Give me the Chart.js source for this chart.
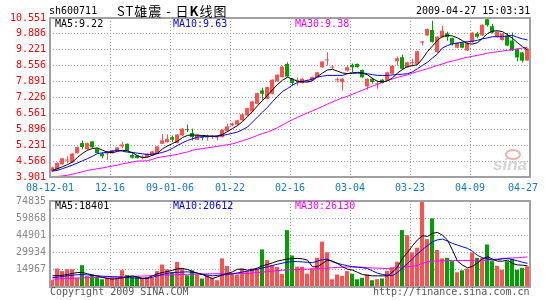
<!DOCTYPE html>
<html><head><meta charset="utf-8">
<script src="https://cdn.jsdelivr.net/npm/chart.js@4.4.0/dist/chart.umd.min.js"></script>
<style>
html,body{margin:0;padding:0;background:#fff;}
#wrap{position:relative;width:545px;height:300px;overflow:hidden;background:#fff;}
canvas{position:absolute;left:0;top:0;}
.t{position:absolute;font-family:"DejaVu Sans Mono",monospace;font-size:10px;line-height:12px;white-space:nowrap;}
</style></head><body>
<div id="wrap">
<canvas id="pc" width="545" height="300"></canvas>
<canvas id="vc" width="545" height="300"></canvas>
<div class="t" style="left:49px;top:5px;color:#000">sh600711</div>
<div class="t" style="left:117px;top:3px;color:#000;font-family:'Noto Sans CJK SC',sans-serif;font-size:13px;line-height:15px;letter-spacing:1px;">ST雄震 - 日<b>K</b>线图</div>
<div class="t" style="left:416px;top:5px;color:#000">2009-04-27 15:03:31</div>
<div class="t" id="pm5" style="left:55px;top:18px;color:#000"></div>
<div class="t" id="pm10" style="left:173px;top:18px;color:#0000ff"></div>
<div class="t" id="pm30" style="left:295px;top:18px;color:#ff00ff"></div>
<div class="t" id="vm5" style="left:55px;top:200px;color:#000"></div>
<div class="t" id="vm10" style="left:173px;top:200px;color:#0000ff"></div>
<div class="t" id="vm30" style="left:295px;top:200px;color:#ff00ff"></div>
<div class="t" style="left:50px;top:286px;color:#555">Copyright 2009 SINA.COM</div>
<div class="t" style="left:373px;top:286px;color:#555">http://finance.sina.com.cn</div>
<div style="position:absolute;left:505px;top:149px;width:12px;height:7px;border:2px solid #f5b0b0;border-radius:50%;"></div>
<div style="position:absolute;left:493px;top:155px;font-family:'Liberation Sans',sans-serif;font-weight:bold;font-style:italic;font-size:17px;color:#d4d4d4;">sina</div>
</div>
<script>
// ---------- data ----------
const dateLabels = ['08-12-01','12-16','09-01-06','01-22','02-16','03-04','03-23','04-09','04-27'];
const priceTicks = [3.901,4.566,5.231,5.896,6.561,7.226,7.891,8.556,9.221,9.886,10.551];
const volumeTicks = [0,14967,29934,44901,59868,74835];
const priceMaLabels = ['MA5:9.22','MA10:9.63','MA30:9.38'];
const volumeMaLabels = ['MA5:18401','MA10:20612','MA30:26130'];

const opens  = [4.14,4.22,4.43,4.59,4.51,4.90,5.32,5.06,5.39,5.09, 4.88,4.88,4.90,4.99,5.18,5.29,4.82,4.81,4.72,4.74,
                4.81,4.88,5.29,5.36,5.57,5.32,5.64,5.90,5.74,5.46, 5.58,5.55,5.57,5.55,5.57,5.82,6.06,6.09,6.27,6.48,
                6.64,6.96,7.52,7.17,7.38,7.90,8.08,8.63,8.01,7.92, 7.83,7.90,7.94,8.08,8.49,8.78,8.48,7.95,7.87,8.35,
                8.59,8.63,8.38,7.69,8.01,7.77,7.97,7.94,8.22,8.74, 8.91,8.49,8.66,8.63,9.52,9.82,10.05,9.13,9.74,9.91,
                9.71,9.31,9.52,9.19,9.54,9.90,9.82,10.50,10.21,9.75, 9.63,9.81,9.61,9.26,9.11,8.77];
const closes = [4.30,4.49,4.68,4.62,4.88,5.15,5.15,5.32,5.14,4.90, 4.77,4.92,5.02,5.14,5.26,4.99,4.71,4.69,4.74,4.88,
                4.97,5.18,5.43,5.50,5.46,5.68,5.92,5.86,5.57,5.67, 5.54,5.57,5.61,5.58,5.88,6.02,6.13,6.27,6.52,6.78,
                7.06,7.41,7.38,7.66,7.97,8.18,8.52,8.10,7.83,7.95, 8.01,7.94,8.08,8.28,8.73,8.81,8.52,7.97,8.01,8.49,
                8.49,8.50,8.07,8.01,7.87,7.80,7.83,8.28,8.56,8.87, 8.43,8.70,8.69,9.16,9.57,10.09,9.55,9.77,10.02,9.75,
                9.46,9.52,9.31,9.52,9.94,9.77,10.27,10.25,9.94,9.98, 9.89,9.40,9.19,8.90,8.77,9.27];
const highs  = [4.33,4.52,4.70,4.77,4.90,5.18,5.43,5.34,5.40,5.10, 4.94,4.99,5.03,5.16,5.36,5.30,4.95,4.82,4.81,4.90,
                4.98,5.20,5.70,5.68,5.64,5.70,5.95,6.10,5.93,5.68, 5.64,5.68,5.66,5.64,5.90,6.14,6.18,6.30,6.55,6.80,
                7.08,7.44,7.63,7.68,7.99,8.20,8.55,8.70,8.04,8.06, 8.03,7.98,8.10,8.30,8.75,9.12,8.56,8.06,8.03,8.56,
                8.65,8.65,8.40,8.03,8.05,7.94,8.00,8.30,8.58,8.94, 9.02,8.72,8.85,9.18,9.59,10.11,10.44,9.79,10.23,9.98,
                9.74,9.54,9.54,9.54,9.96,9.98,10.29,10.55,10.30,10.00, 9.91,9.92,9.94,9.28,9.13,9.29];
const lows   = [4.10,4.20,4.42,4.48,4.50,4.88,5.06,5.04,5.12,4.88, 4.68,4.62,4.88,4.98,5.10,4.98,4.67,4.67,4.63,4.72,
                4.79,4.86,5.28,5.33,5.36,5.30,5.62,5.78,5.43,5.44, 5.43,5.43,5.50,5.43,5.55,5.78,6.02,6.05,6.25,6.45,
                6.62,6.94,7.13,7.15,7.36,7.88,8.06,8.08,7.73,7.73, 7.81,7.86,7.92,8.06,8.47,8.56,8.42,7.85,7.52,8.30,
                8.28,8.47,8.05,7.55,7.80,7.59,7.81,7.92,8.20,8.56, 8.40,8.47,8.52,8.61,9.40,9.80,9.52,9.10,9.72,9.60,
                9.40,9.28,9.29,9.17,9.52,9.70,9.80,10.20,9.90,9.73, 9.60,9.38,9.17,8.73,8.69,8.75];
const ma5  = [4.18,4.25,4.33,4.42,4.53,4.72,4.89,5.02,5.09,5.12, 5.02,4.94,4.92,4.97,5.02,4.99,4.92,4.79,4.71,4.73,
              4.81,4.89,5.08,5.20,5.30,5.40,5.55,5.64,5.66,5.65, 5.64,5.62,5.61,5.62,5.68,5.80,5.93,6.05,6.22,6.42,
              6.64,6.88,7.10,7.32,7.55,7.77,7.95,8.07,8.00,7.90, 7.88,7.87,7.93,8.10,8.25,8.38,8.40,8.33,8.25,8.23,
              8.24,8.25,8.24,8.18,8.02,7.90,7.88,7.92,8.05,8.25, 8.40,8.52,8.56,8.60,8.85,9.15,9.38,9.62,9.78,9.82,
              9.80,9.72,9.60,9.48,9.46,9.52,9.70,9.90,10.00,10.02, 9.98,9.85,9.70,9.52,9.35,9.22];
const ma10 = [4.15,4.18,4.25,4.32,4.40,4.49,4.58,4.67,4.77,4.88, 4.91,4.94,4.98,5.02,4.98,4.94,4.92,4.90,4.87,4.84,
              4.86,4.88,4.93,5.00,5.10,5.22,5.33,5.43,5.50,5.57, 5.59,5.60,5.60,5.60,5.64,5.68,5.73,5.78,5.88,5.99,
              6.20,6.41,6.61,6.82,7.05,7.27,7.48,7.60,7.75,7.85, 7.90,7.94,8.00,8.08,8.12,8.15,8.15,8.15,8.15,8.22,
              8.26,8.28,8.26,8.22,8.18,8.15,8.15,8.15,8.17,8.19, 8.20,8.22,8.30,8.43,8.57,8.70,8.88,9.05,9.30,9.40,
              9.47,9.50,9.54,9.56,9.58,9.62,9.68,9.72,9.77,9.77, 9.77,9.80,9.82,9.74,9.68,9.63];
const ma30 = [3.91,3.92,3.95,3.97,4.02,4.07,4.12,4.18,4.21,4.25, 4.28,4.32,4.36,4.40,4.45,4.49,4.53,4.57,4.57,4.58,
              4.64,4.71,4.75,4.78,4.81,4.85,4.90,4.95,5.02,5.06, 5.09,5.12,5.15,5.18,5.22,5.25,5.29,5.35,5.42,5.48,
              5.56,5.64,5.72,5.78,5.87,5.96,6.08,6.19,6.30,6.40, 6.49,6.58,6.67,6.76,6.85,6.95,7.04,7.13,7.21,7.28,
              7.36,7.45,7.53,7.62,7.70,7.78,7.86,7.94,8.00,8.07, 8.12,8.17,8.24,8.31,8.37,8.43,8.50,8.57,8.63,8.70,
              8.75,8.80,8.86,8.91,8.95,8.99,9.03,9.08,9.11,9.14, 9.17,9.20,9.23,9.26,9.29,9.33];
const volumes = [6000,16100,13800,15500,15500,8000,19000,9500,10900,9000, 6700,8000,8300,7500,14600,10500,9500,9300,8300,8300,
                 8300,13800,19600,15300,12700,21800,16700,10200,14500,10900, 7400,10300,8000,5900,24900,18200,11800,10900,16100,13800,
                 16100,16100,32700,23400,19200,17500,11300,49500,27400,17700, 17600,11600,16100,25400,39500,30200,6700,10900,9700,13800,
                 11500,6700,8000,10900,5900,6800,7400,14000,17000,22000, 49500,45100,30100,34200,74400,41700,59700,32200,24900,25400,
                 22500,12800,14500,16000,30000,25400,25400,37000,22500,18500, 15000,22500,24500,15000,16700,17900];
const vma5  = [9700,10000,10200,10900,11800,12600,12600,11500,10500,9500, 8300,7400,6800,7400,8000,9000,9700,8500,7400,8000,
               9700,11500,12600,13500,14500,15800,16100,15300,13400,12000, 10800,9000,7400,8800,10500,11800,13200,15500,15500,14700,
               15200,16500,18500,19600,21000,22500,23500,24300,24600,24900, 24500,23400,17600,17600,20500,23400,22500,20500,17600,15500,
               14700,12800,10900,10200,9700,9700,9700,9700,13000,17500, 24900,30000,36000,41000,44600,44000,46700,47500,45000,40900,
               32000,22500,19000,16700,18000,21000,24500,26300,24300,22500, 22500,23400,20500,19200,19000,18400];
const vma10 = [8200,8600,9100,9700,10200,10700,10800,10500,10100,9700, 9400,9200,8900,8600,8300,8100,7900,7700,7500,7400,
               8500,9800,10900,11900,12600,12800,13000,13200,12700,12000, 11200,10400,9700,10100,10500,10900,11500,12300,13000,13800,
               14500,15500,16500,17600,18700,19800,20800,21600,22200,22100, 21800,21500,21200,22500,23800,24300,22000,20500,19500,18500,
               17600,17200,16800,16100,14000,12000,10900,10300,10000,12500, 16500,20500,24500,29000,32500,36000,39400,41000,41700,40000,
               37900,36500,35000,33600,31000,27500,25500,24500,23400,23800, 24500,24900,23800,22800,21500,20600];
const vma30 = [6900,7000,7200,7400,7600,7800,8000,8100,8300,8400, 8500,8700,8800,8900,9000,9100,9300,9400,9500,9700,
               9900,10100,10300,10500,10600,10800,10900,11000,11100,11200, 11300,11400,11500,11500,11600,11600,11700,11700,11800,11800,
               12200,12600,13000,13400,13800,14300,14600,14800,15000,15200, 15400,15600,15800,16000,16300,16500,16800,17000,17200,17400,
               17600,17400,17200,16900,16600,16400,16200,16100,16500,16900, 17300,17600,18000,18800,20500,21800,22500,22700,22800,23000,
               23100,23100,23100,23100,23200,23300,23300,23400,23800,24300, 24900,25100,25300,25500,25800,26130];

// ---------- drawing ----------
const N = opens.length;
const gridIdx = dateLabels.map((_, k) => k * 12);
const RED = '#ff5050', GREEN = '#00a000', GRID = '#999999', FRAME = '#a0a0a0';
const colors = opens.map((o, i) => closes[i] >= o ? RED : GREEN);
const MONO = 'DejaVu Sans Mono';

['pm5','pm10','pm30'].forEach((id, k) => document.getElementById(id).textContent = priceMaLabels[k]);
['vm5','vm10','vm30'].forEach((id, k) => document.getElementById(id).textContent = volumeMaLabels[k]);

const framePlugin = {
  id: 'frame',
  afterDatasetsDraw(chart) {
    const {ctx, chartArea: a} = chart;
    ctx.save();
    ctx.strokeStyle = FRAME; ctx.lineWidth = 2;
    ctx.strokeRect(Math.round(a.left), Math.round(a.top), Math.round(a.right - a.left), Math.round(a.bottom - a.top));
    ctx.restore();
  }
};
const datePlugin = {
  id: 'dates',
  afterDraw(chart) {
    const {ctx} = chart; const xs = chart.scales.x;
    ctx.save();
    ctx.font = '10px "' + MONO + '"'; ctx.fillStyle = '#1478c8';
    ctx.textAlign = 'center'; ctx.textBaseline = 'middle';
    dateLabels.forEach((t, k) => {
      const w = ctx.measureText(t).width;
      let x = xs.getPixelForValue(gridIdx[k]);
      x = Math.min(x, 538 - w / 2);
      ctx.fillText(t, x, 188);
    });
    ctx.restore();
  }
};

function xScales() {
  const common = {
    type: 'linear', min: 0, max: N, offset: false,
    afterBuildTicks: s => { s.ticks = gridIdx.map(v => ({value: v})); },
    ticks: {display: false},
    afterFit: s => { s.height = 0; }
  };
  return {
    x: Object.assign({}, common, {
      grid: {drawTicks: false, offset: false, lineWidth: 1,
             color: c => (c.index === 0 || c.index === gridIdx.length - 1) ? 'rgba(0,0,0,0)' : GRID},
      border: {display: false, dash: [1, 2]}
    }),
    xw: Object.assign({}, common, {display: true, grid: {display: false}, border: {display: false}})
  };
}
function yScale(ticksArr, min, max, color, fmt) {
  return {
    min, max,
    afterBuildTicks: s => { s.ticks = ticksArr.map(v => ({value: v})); },
    ticks: {color, font: {family: MONO, size: 10}, padding: 4, callback: fmt, autoSkip: false},
    grid: {drawTicks: false, lineWidth: 1,
           color: c => (c.index === 0 || c.index === ticksArr.length - 1) ? 'rgba(0,0,0,0)' : GRID},
    border: {display: false, dash: [1, 2]},
    afterFit: s => { s.width = 50; }
  };
}
function line(label, arr, color) {
  return {type: 'line', label, data: arr.map((v, i) => ({x: i + 0.5, y: v})), xAxisID: 'xw',
          borderColor: color, borderWidth: 1, pointRadius: 0, tension: 0, order: 1};
}
const barCommon = {grouped: false, barPercentage: 1, categoryPercentage: 1, inflateAmount: 0, borderWidth: 0};

new Chart(document.getElementById('pc'), {
  type: 'bar',
  data: {datasets: [
    line('MA5', ma5, '#000000'),
    line('MA10', ma10, '#0000ff'),
    line('MA30', ma30, '#ff00ff'),
    Object.assign({label: 'body', data: opens.map((o, i) => ({x: i + 0.4, y: [o, closes[i]]})),
      xAxisID: 'x', backgroundColor: colors, barThickness: 4, maxBarThickness: 4, minBarLength: 1, order: 3}, barCommon),
    Object.assign({label: 'wick', data: lows.map((l, i) => ({x: i + 0.5, y: [l, highs[i]]})),
      xAxisID: 'xw', backgroundColor: colors, barThickness: 1, maxBarThickness: 1, order: 4}, barCommon)
  ]},
  options: {
    responsive: false, animation: false, devicePixelRatio: 1, events: [],
    layout: {padding: {left: 0, right: 15, top: 18, bottom: 123}},
    plugins: {legend: {display: false}, tooltip: {enabled: false}},
    scales: Object.assign(xScales(), {y: yScale(priceTicks, 3.901, 10.551, '#ff0000', v => Number(v).toFixed(3))})
  },
  plugins: [framePlugin, datePlugin]
});

new Chart(document.getElementById('vc'), {
  type: 'bar',
  data: {datasets: [
    line('MA5', vma5, '#000000'),
    line('MA10', vma10, '#0000ff'),
    line('MA30', vma30, '#ff00ff'),
    Object.assign({label: 'vol', data: volumes.map((v, i) => ({x: i + 0.4, y: v})),
      xAxisID: 'x', backgroundColor: colors, barThickness: 4, maxBarThickness: 4, order: 3}, barCommon)
  ]},
  options: {
    responsive: false, animation: false, devicePixelRatio: 1, events: [],
    layout: {padding: {left: 0, right: 15, top: 201, bottom: 13}},
    plugins: {legend: {display: false}, tooltip: {enabled: false}},
    scales: Object.assign(xScales(), {y: yScale(volumeTicks, 0, 74835, '#888888', v => v === 0 ? '' : String(v))})
  },
  plugins: [framePlugin]
});
</script>
</body></html>
